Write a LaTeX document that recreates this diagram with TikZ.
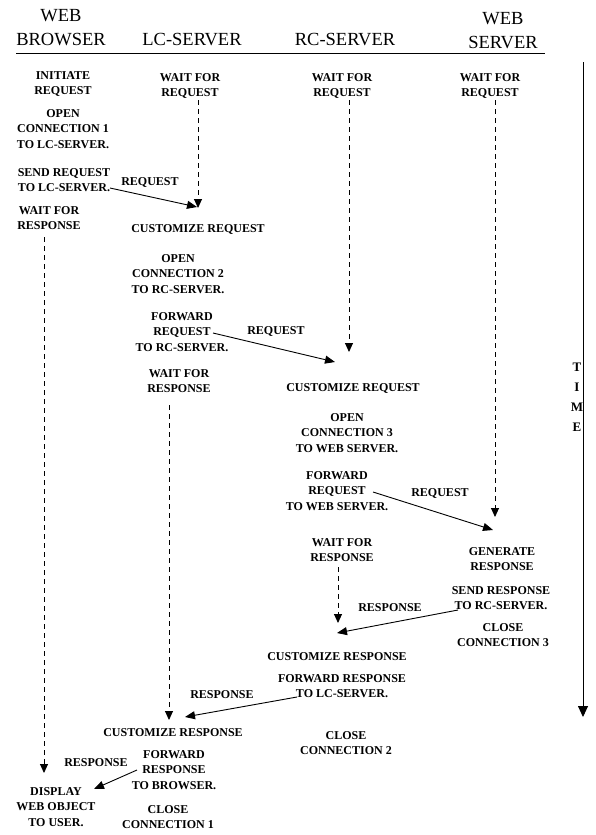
\documentclass[tikz,border=0pt]{standalone}
\usepackage{fontspec}
\setmainfont{Liberation Serif}
\usetikzlibrary{arrows.meta}
\begin{document}
\begin{tikzpicture}[x=1pt,y=-1pt,
  hdr/.style={font=\fontsize{18.5}{24}\selectfont, align=center, inner sep=0pt},
  lbl/.style={font=\bfseries\fontsize{12}{15.5}\selectfont, align=center, inner sep=0pt},
  msg/.style={-{Triangle[length=10pt,width=8pt]}, line width=0.9pt},
  wait/.style={-{Triangle[length=9pt,width=8pt]}, line width=0.9pt, dash pattern=on 5pt off 4pt}]
\useasboundingbox (0,0) rectangle (595,835);

% column headings
\node[hdr] (hbrowser) at (61,28) {WEB\\BROWSER};
\node[hdr] (hlc) at (192,40) {LC-SERVER};
\node[hdr] (hrc) at (345,40) {RC-SERVER};
\node[hdr] (hweb) at (503,31) {WEB\\SERVER};
\coordinate (rulel) at (16,53);
\coordinate (ruler) at (545,53);
\draw[line width=0.9pt] (rulel) -- (ruler);

% time axis
\coordinate (ttop) at (583,62);
\coordinate (tbot) at (583,717);
\draw[-{Triangle[length=11pt,width=10pt]}, line width=0.9pt] (ttop) -- (tbot);
\node[lbl, font=\bfseries\fontsize{13}{20}\selectfont] (time) at (577,397) {T\\I\\M\\E};

% web browser
\node[lbl] (b1) at (63,84) {INITIATE\\REQUEST};
\node[lbl] (b2) at (63,129) {OPEN\\CONNECTION 1\\TO LC-SERVER.};
\node[lbl] (b3) at (64,180) {SEND REQUEST\\TO LC-SERVER.};
\node[lbl] (b4) at (49,218) {WAIT FOR\\RESPONSE};
\node[lbl] (b5) at (56,807) {DISPLAY\\WEB OBJECT\\TO USER.};

% LC-server
\node[lbl] (l1) at (190,86) {WAIT FOR\\REQUEST};
\node[lbl] (l2) at (198,229) {CUSTOMIZE REQUEST};
\node[lbl] (l3) at (178,274) {OPEN\\CONNECTION 2\\TO RC-SERVER.};
\node[lbl] (l4) at (182,332) {FORWARD\\REQUEST\\TO RC-SERVER.};
\node[lbl] (l5) at (179,381) {WAIT FOR\\RESPONSE};
\node[lbl] (l6) at (173,733) {CUSTOMIZE RESPONSE};
\node[lbl] (l7) at (174,770) {FORWARD\\RESPONSE\\TO BROWSER.};
\node[lbl] (l8) at (168,817) {CLOSE\\CONNECTION 1};

% RC-server
\node[lbl] (r1) at (342,86) {WAIT FOR\\REQUEST};
\node[lbl] (r2) at (353,388) {CUSTOMIZE REQUEST};
\node[lbl] (r3) at (347,433) {OPEN\\CONNECTION 3\\TO WEB SERVER.};
\node[lbl] (r4) at (337,491) {FORWARD\\REQUEST\\TO WEB SERVER.};
\node[lbl] (r5) at (342,550) {WAIT FOR\\RESPONSE};
\node[lbl] (r6) at (337,657) {CUSTOMIZE RESPONSE};
\node[lbl] (r7) at (342,686) {FORWARD RESPONSE\\TO LC-SERVER.};
\node[lbl] (r8) at (346,743) {CLOSE\\CONNECTION 2};

% web server
\node[lbl] (w1) at (490,86) {WAIT FOR\\REQUEST};
\node[lbl] (w2) at (502,559) {GENERATE\\RESPONSE};
\node[lbl] (w3) at (501,598) {SEND RESPONSE\\TO RC-SERVER.};
\node[lbl] (w4) at (503,635) {CLOSE\\CONNECTION 3};

% waiting periods
\coordinate (bw0) at (44,237);  \coordinate (bw1) at (44,773);
\coordinate (lw0) at (198,100); \coordinate (lw1) at (198,208);
\coordinate (lv0) at (169,405); \coordinate (lv1) at (169,720);
\coordinate (rw0) at (349,100); \coordinate (rw1) at (349,352);
\coordinate (rv0) at (338,567); \coordinate (rv1) at (338,623);
\coordinate (ww0) at (495,100); \coordinate (ww1) at (495,517);
\draw[wait] (bw0) -- (bw1);
\draw[wait] (lw0) -- (lw1);
\draw[wait] (lv0) -- (lv1);
\draw[wait] (rw0) -- (rw1);
\draw[wait] (rv0) -- (rv1);
\draw[wait] (ww0) -- (ww1);

% messages
\coordinate (m1a) at (110,188); \coordinate (m1b) at (197,207);
\draw[msg] (m1a) -- (m1b);
\node[lbl] (m1) at (150,182) {REQUEST};
\coordinate (m2a) at (213,333); \coordinate (m2b) at (335,362);
\draw[msg] (m2a) -- (m2b);
\node[lbl] (m2) at (276,331) {REQUEST};
\coordinate (m3a) at (373,492); \coordinate (m3b) at (493,530);
\draw[msg] (m3a) -- (m3b);
\node[lbl] (m3) at (440,493) {REQUEST};
\coordinate (m4a) at (458,610); \coordinate (m4b) at (337,633);
\draw[msg] (m4a) -- (m4b);
\node[lbl] (m4) at (390,608) {RESPONSE};
\coordinate (m5a) at (297,697); \coordinate (m5b) at (185,717);
\draw[msg] (m5a) -- (m5b);
\node[lbl] (m5) at (222,695) {RESPONSE};
\coordinate (m6a) at (137,770); \coordinate (m6b) at (94,789);
\draw[msg] (m6a) -- (m6b);
\node[lbl] (m6) at (96,763) {RESPONSE};
\end{tikzpicture}
\end{document}
